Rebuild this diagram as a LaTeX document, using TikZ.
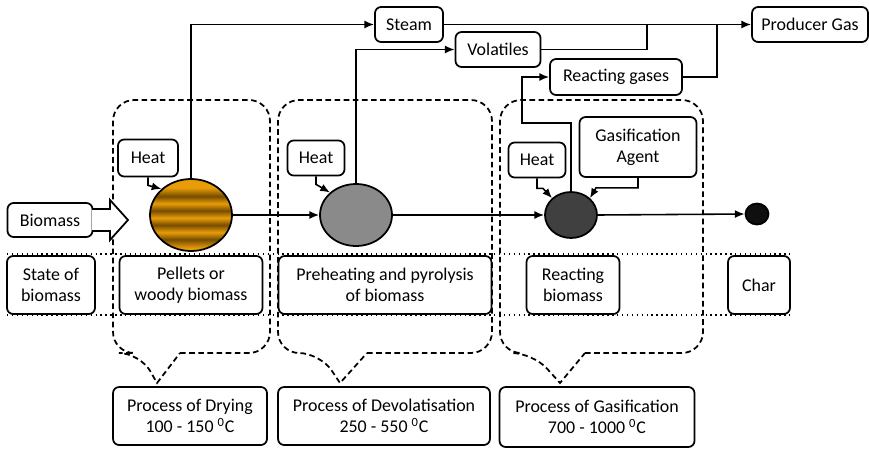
\documentclass[tikz,border=0pt]{standalone}
\usepackage{fontspec}
\setmainfont{Carlito}
\usetikzlibrary{shapes.geometric,arrows.meta}

\definecolor{woodlight}{RGB}{232,157,8}
\definecolor{wooddark}{RGB}{118,76,0}
\definecolor{pyrogrey}{RGB}{138,138,138}
\definecolor{reactgrey}{RGB}{64,64,64}
\definecolor{chardark}{RGB}{15,15,15}

% horizontal bands for the raw wood particle
\pgfdeclareverticalshading{woodbands}{100bp}{%
  color(0bp)=(woodlight); color(27bp)=(woodlight);
  color(33bp)=(wooddark); color(38bp)=(woodlight);
  color(43bp)=(wooddark); color(48bp)=(woodlight);
  color(53bp)=(wooddark); color(58bp)=(woodlight);
  color(63bp)=(wooddark); color(69bp)=(woodlight);
  color(100bp)=(woodlight)}

\begin{document}
\begin{tikzpicture}[x=0.02cm,y=-0.02cm,
  every node/.style={font=\fontsize{10.2}{12}\selectfont},
  lbl/.style={draw, rounded corners=3.5pt, line width=1pt, fill=white,
    align=center, inner sep=0pt},
  conn/.style={line width=0.9pt, -{Latex[length=5.5pt,width=4.5pt]}},
  link/.style={line width=0.9pt},
  zone/.style={line width=1pt, dash pattern=on 3.2pt off 2pt},
  row/.style={line width=0.8pt, dotted},
  blob/.style={ellipse, draw, line width=1pt, inner sep=0pt}]
\useasboundingbox (0,0) rectangle (869,450);

% row of biomass states
\draw[row] (7,254) -- (790,254);
\draw[row] (7,315) -- (790,315);

% process zones with their callout pointers
\draw[zone] (180,353) [rounded corners=12pt] -- (270,353) -- (270,100)
  -- (113,100) -- (113,353) -- (140,353) [sharp corners] -- (157,383) -- (180,353);
\draw[zone] (367,353) [rounded corners=12pt] -- (492,353) -- (492,100)
  -- (278,100) -- (278,353) -- (320,353) [sharp corners] -- (340,383) -- (367,353);
\draw[zone] (585,353) [rounded corners=12pt] -- (703,353) -- (703,100)
  -- (500,100) -- (500,353) -- (533,353) [sharp corners] -- (560,383) -- (585,353);

% product boxes
\node[lbl, minimum width=1.36cm, minimum height=0.70cm] (steam) at (409,24.5) {Steam};
\node[lbl, minimum width=2.32cm, minimum height=0.70cm] (gas) at (810,24.5) {Producer Gas};
\node[lbl, minimum width=1.70cm, minimum height=0.70cm] (vol) at (498,49.5) {Volatiles};
\node[lbl, minimum width=2.64cm, minimum height=0.72cm] (react) at (616,77) {Reacting gases};

% heat and agent inputs
\node[lbl, minimum width=1.20cm, minimum height=0.74cm] (heat1) at (148,158) {Heat};
\node[lbl, minimum width=1.14cm, minimum height=0.70cm] (heat2) at (316,158) {Heat};
\node[lbl, minimum width=1.14cm, minimum height=0.70cm] (heat3) at (537,160) {Heat};
\node[lbl, minimum width=2.34cm, minimum height=1.20cm] (agent) at (638,147) {Gasification\\Agent};

% feed
\node[lbl, minimum width=1.70cm, minimum height=0.68cm] (biomass) at (50,220) {Biomass};
\draw[line width=1pt, fill=white] (92,209) -- (110,209) -- (110,200) -- (128,220)
  -- (110,240) -- (110,231) -- (92,231);

% states of biomass
\node[lbl, minimum width=1.76cm, minimum height=1.16cm] (state) at (51,285) {State of\\biomass};
\node[lbl, minimum width=2.86cm, minimum height=1.16cm] (pellets) at (191,285) {Pellets or\\woody biomass};
\node[lbl, minimum width=4.26cm, minimum height=1.16cm] (preheat) at (385,285) {Preheating and pyrolysis\\of biomass};
\node[lbl, minimum width=1.86cm, minimum height=1.16cm] (reactb) at (573,285) {Reacting\\biomass};
\node[lbl, minimum width=1.24cm, minimum height=1.16cm] (charbox) at (759,285) {Char};

% process descriptions
\node[lbl, minimum width=3.08cm, minimum height=1.16cm] (proc1) at (190,416)
  {Process of Drying\\100 - 150 \textsuperscript{0}C};
\node[lbl, minimum width=4.24cm, minimum height=1.16cm] (proc2) at (384,416)
  {Process of Devolatisation\\250 - 550 \textsuperscript{0}C};
\node[lbl, minimum width=3.90cm, minimum height=1.20cm] (proc3) at (597,417)
  {Process of Gasification\\700 - 1000 \textsuperscript{0}C};

% particle stages
\node[blob, shading=woodbands, minimum width=1.64cm, minimum height=1.44cm] (dry) at (191,215) {};
\node[blob, fill=pyrogrey, minimum width=1.44cm, minimum height=1.24cm] (pyro) at (356,215) {};
\node[blob, fill=reactgrey, minimum width=1.04cm, minimum height=0.92cm] (gasi) at (571,215) {};
\node[blob, fill=chardark, minimum width=0.46cm, minimum height=0.42cm] (char) at (757,214) {};

% junctions on the gas lines
\coordinate (j1) at (647,24.5);
\coordinate (j2) at (717,24.5);
\coordinate (k1) at (522,123);

% particle path
\draw[conn] (dry.east) -- (pyro.west);
\draw[conn] (pyro.east) -- (gasi.west);
\draw[conn] (gasi.east) -- (char.west);

% released gases
\draw[conn] (dry.north) |- (steam.west);
\draw[conn] (steam.east) -- (gas.west);
\draw[conn] (pyro.north) |- (vol.west);
\draw[link] (vol.east) -| (j1);
\draw[conn] (gasi.north) |- (k1) |- (react.west);
\draw[link] (react.east) -| (j2);

% heat and agent supply
\draw[conn] (heat1.south) -- ++(0,8) -- (dry.north west);
\draw[conn] (heat2.south) -- ++(0,8) -- (pyro.north west);
\draw[conn] (heat3.south) -- ++(0,10) -- ++(6,0) -- (gasi.north west);
\draw[conn] (agent.south) -- ++(0,10) -- ++(-42,0) -- (gasi.north east);
\end{tikzpicture}
\end{document}
